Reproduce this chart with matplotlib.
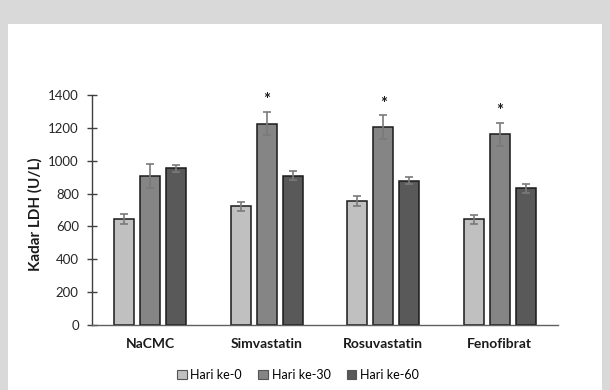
import numpy as np
import matplotlib.pyplot as plt
from matplotlib.patches import Rectangle

# Data
groups = ['NaCMC', 'Simvastatin', 'Rosuvastatin', 'Fenofibrat']
series = ['Hari ke-0', 'Hari ke-30', 'Hari ke-60']
day0 = [645, 722, 757, 643]
day30 = [908, 1226, 1205, 1160]
day60 = [954, 909, 878, 832]
err0 = [28, 28, 30, 28]
err30 = [74, 72, 73, 72]
err60 = [22, 28, 22, 28]
signif = [False, True, True, True]
yticks = [0, 200, 400, 600, 800, 1000, 1200, 1400]

colors = ['#c0c0c0', '#858585', '#595959']

plt.rcParams['font.family'] = ['Lato', 'DejaVu Sans']

fig = plt.figure(figsize=(6.1, 3.9), dpi=100)
fig.patch.set_facecolor('#d9d9d9')
# white panel behind the chart
fig.patches.append(Rectangle((8 / 610, 0), (602 - 8) / 610, (390 - 24) / 390,
                             transform=fig.transFigure, facecolor='white',
                             edgecolor='none', zorder=-10))

ax = fig.add_axes([92 / 610, 1 - 325 / 390, (558 - 92) / 610, (325 - 95) / 390])
ax.set_facecolor('none')

x = np.arange(len(groups))
w = 0.172
step = 0.223
vals = [day0, day30, day60]
errs = [err0, err30, err60]
for k in range(3):
    ax.bar(x + (k - 1) * step, vals[k], w, color=colors[k], edgecolor='#1a1a1a',
           linewidth=1.1, label=series[k], zorder=2)
    ax.errorbar(x + (k - 1) * step, vals[k], yerr=errs[k], fmt='none',
                ecolor='#7a7a7a', elinewidth=1.2, capsize=2.6, capthick=1.2, zorder=3)

for i in range(len(groups)):
    if signif[i]:
        ax.text(x[i], day30[i] + err30[i] + 20, '*', ha='center', va='bottom',
                fontsize=12, fontweight='bold', color='#1a1a1a')

ax.set_xlim(-0.5, len(groups) - 0.5)
ax.set_ylim(0, 1400)
ax.set_yticks(yticks)
ax.set_yticklabels([str(v) for v in yticks], fontsize=9.5, color='#262626')
ax.set_xticks(x)
ax.set_xticklabels(groups, fontsize=10, fontweight='bold', color='#1a1a1a')
ax.tick_params(axis='x', length=0, pad=9)
ax.tick_params(axis='y', direction='inout', length=7, width=1.0, color='#404040', pad=6)
ax.set_ylabel('Kadar LDH (U/L)', fontsize=11, fontweight='bold', color='#1a1a1a')
ax.yaxis.set_label_coords(-0.107, 0.48)

for s in ['top', 'right']:
    ax.spines[s].set_visible(False)
ax.spines['left'].set_color('#404040')
ax.spines['bottom'].set_color('#606060')
ax.spines['left'].set_linewidth(1.0)
ax.spines['bottom'].set_linewidth(1.0)

leg = fig.legend(*ax.get_legend_handles_labels(), loc='center',
                 bbox_to_anchor=(298 / 610, 15 / 390), ncol=3,
                 frameon=False, fontsize=9, handlelength=0.75, handleheight=0.75,
                 handletextpad=0.3, columnspacing=1.3)
for h in leg.legend_handles:
    h.set_edgecolor('#555555')
    h.set_linewidth(0.8)

fig.savefig('out.png', dpi=100, facecolor=fig.get_facecolor())
